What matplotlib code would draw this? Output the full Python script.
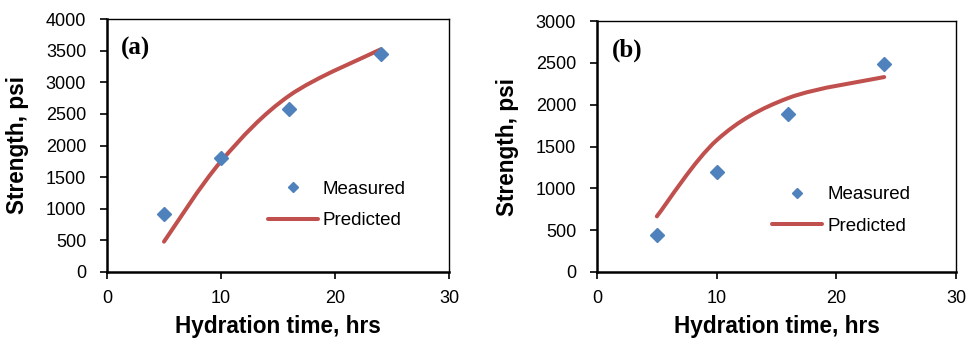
import matplotlib.pyplot as plt
from matplotlib.path import Path
from matplotlib.patches import PathPatch
from matplotlib.lines import Line2D

plt.rcParams['font.family'] = ['Liberation Sans', 'DejaVu Sans']

hours = [5, 10, 16, 24]

# panel (a)
measured_a = [920, 1810, 2570, 3440]
predicted_a = [480, 1750, 2790, 3520]

# panel (b)
measured_b = [445, 1200, 1890, 2490]
predicted_b = [665, 1575, 2080, 2330]

BLUE = '#4F81BD'
RED = '#C0504D'


def smooth_path(xs, ys):
    # Catmull-Rom style bezier through the points (like a spreadsheet "smoothed line")
    pts = list(zip(xs, ys))
    verts = [pts[0]]
    codes = [Path.MOVETO]
    n = len(pts)
    for i in range(n - 1):
        p0 = pts[i - 1] if i > 0 else pts[i]
        p1 = pts[i]
        p2 = pts[i + 1]
        p3 = pts[i + 2] if i + 2 < n else pts[i + 1]
        c1 = (p1[0] + (p2[0] - p0[0]) / 6, p1[1] + (p2[1] - p0[1]) / 6)
        c2 = (p2[0] - (p3[0] - p1[0]) / 6, p2[1] - (p3[1] - p1[1]) / 6)
        verts += [c1, c2, p2]
        codes += [Path.CURVE4] * 3
    return Path(verts, codes)


def draw_panel(ax, meas, pred, ymax, tag, leg_anchor):
    patch = PathPatch(smooth_path(hours, pred), facecolor='none', edgecolor=RED,
                      lw=2.9, capstyle='round', zorder=2)
    ax.add_patch(patch)
    ax.plot(hours, meas, linestyle='none', marker='D', ms=7.2, color=BLUE,
            markeredgecolor=BLUE, zorder=3)

    ax.set_xlim(0, 30)
    ax.set_ylim(0, ymax)
    ax.set_xticks([0, 10, 20, 30])
    ax.set_yticks(range(0, ymax + 1, 500))
    ax.tick_params(direction='out', length=5, width=1.2, labelsize=13)
    ax.tick_params(axis='x', pad=8)
    ax.tick_params(axis='y', pad=10)
    for side in ['left', 'bottom']:
        ax.spines[side].set_linewidth(1.8)
    for side in ['top', 'right']:
        ax.spines[side].set_linewidth(1.0)

    ax.set_xlabel('Hydration time, hrs', fontsize=16.3, fontweight='bold', labelpad=6)
    ax.set_ylabel('Strength, psi', fontsize=16.3, fontweight='bold', labelpad=12)
    ax.text(0.042, 0.86, tag, transform=ax.transAxes, fontsize=18,
            fontweight='bold', family='Liberation Serif')

    handles = [
        Line2D([], [], linestyle='none', marker='D', ms=5.6, color=BLUE),
        Line2D([], [], color=RED, lw=2.9, solid_capstyle='round'),
    ]
    ax.legend(handles, ['Measured', 'Predicted'], frameon=False, fontsize=13.5,
              loc='center left', bbox_to_anchor=leg_anchor, handlelength=2.7,
              handletextpad=0.25, labelspacing=0.75)


fig = plt.figure(figsize=(9.66, 3.4), dpi=100)
ax1 = fig.add_axes([107 / 966, 68 / 340, 342 / 966, 253 / 340])
ax2 = fig.add_axes([597 / 966, 68 / 340, 359 / 966, 251 / 340])

draw_panel(ax1, measured_a, predicted_a, 4000, '(a)', (0.42, 0.265))
draw_panel(ax2, measured_b, predicted_b, 3000, '(b)', (0.44, 0.245))

fig.savefig('out.png', dpi=100)
